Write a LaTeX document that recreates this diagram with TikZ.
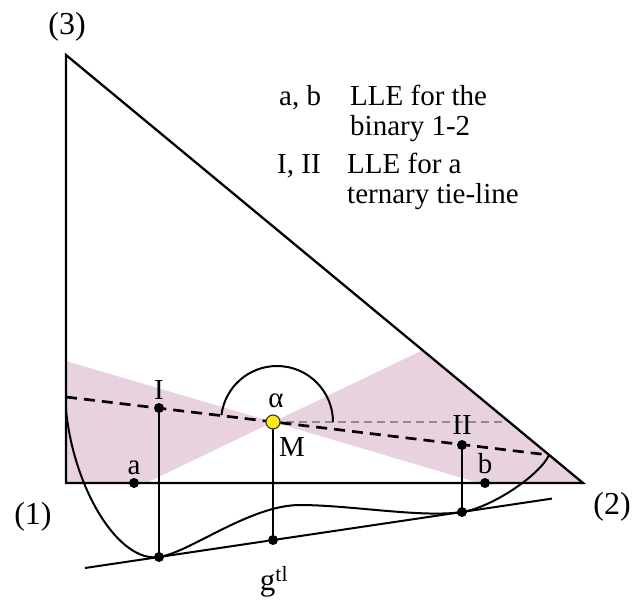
\documentclass[tikz,border=0pt]{standalone}
\usepackage{fontspec}
\setmainfont{Liberation Serif}
\usetikzlibrary{positioning}
\definecolor{wedgepink}{HTML}{E8D2DF}
\definecolor{pointyellow}{HTML}{FFE81A}
\tikzset{
  side/.style={line width=2.3pt, line join=miter},
  curve/.style={line width=2pt},
  tieline/.style={line width=2.7pt, dash pattern=on 11pt off 7pt},
  refline/.style={line width=1.5pt, black!45, dash pattern=on 8pt off 5pt},
  drop/.style={line width=2pt},
  pt/.style={circle, fill=black, inner sep=0pt, minimum size=10pt},
  mix/.style={circle, draw=black!80, line width=1.1pt, fill=pointyellow, inner sep=0pt, minimum size=14pt},
  lbl/.style={inner sep=0pt, font=\fontsize{29}{33}\selectfont},
  corner/.style={inner sep=0pt, font=\fontsize{32}{36}\selectfont},
  legend/.style={inner sep=0pt, anchor=base west, font=\fontsize{29}{33}\selectfont}
}

\begin{document}
\begin{tikzpicture}[x=1pt, y=-1pt]
  \useasboundingbox (0,0) rectangle (640,600);

  % corners of the triangle and points on the lines
  \coordinate (v1) at (66,483);
  \coordinate (v2) at (583,483);
  \coordinate (v3) at (66,55);
  \coordinate (m) at (273,422);
  \coordinate (wl) at (66,361);
  \coordinate (wa) at (146,483);
  \coordinate (wt) at (423,350);
  \coordinate (wb) at (479,483);
  \coordinate (dl) at (66,397);
  \coordinate (dr) at (549,455);
  \coordinate (hr) at (505,422);
  \coordinate (gs) at (66,410);
  \coordinate (tI) at (159,557);
  \coordinate (tM) at (273,540);
  \coordinate (tII) at (462,512);
  \coordinate (gl) at (85,568);
  \coordinate (gr) at (552,498.6);

  % shaded wedges
  \fill[wedgepink] (wl) -- (m) -- (wa) -- (v1) -- cycle;
  \fill[wedgepink] (m) -- (wt) -- (v2) -- (wb) -- cycle;

  \draw[side] (v3) -- (v1) -- (v2) -- cycle;

  \draw[refline] (m) -- (hr);
  \draw[tieline] (dl) -- (dr);
  \draw[curve] (333,422) arc[start angle=0, end angle=-173, radius=56];

  % g curve and its tangent
  \draw[curve] (gs) .. controls (74,490) and (119,563) .. (tI)
    .. controls (190,552.4) and (250,505) .. (300,505)
    .. controls (350,505) and (422,518) .. (tII)
    .. controls (492,507.5) and (540,475) .. (dr);
  \draw[curve] (gl) -- (gr);

  % points
  \node[pt] (pa) at (134,483) {};
  \node[pt] (pb) at (485,483) {};
  \node[pt] (pI) at (159,408) {};
  \node[pt] (pII) at (462,445) {};
  \node[pt] (qI) at (tI) {};
  \node[pt] (qM) at (tM) {};
  \node[pt] (qII) at (tII) {};

  \draw[drop] (pI.center) -- (qI.center);
  \draw[drop] (m) -- (qM.center);
  \draw[drop] (pII.center) -- (qII.center);
  \node[mix] (pM) at (m) {};

  % labels
  \node[lbl, above=3pt of pa] (la) {a};
  \node[lbl, above=4pt of pb] (lb) {b};
  \node[lbl, above=3pt of pI] (lI) {I};
  \node[lbl, above=5pt of pII] (lII) {II};
  \node[lbl, above=6pt of pM, xshift=3pt] (lalpha) {α};
  \node[lbl] (lM) at (292,447) {M};
  \node[lbl, font=\fontsize{31}{35}\selectfont] (lg) at (274,582) {g\textsuperscript{tl}};

  \node[corner] (c3) at (67,27) {(3)};
  \node[corner] (c1) at (33,517) {(1)};
  \node[corner] (c2) at (612,507) {(2)};

  % legend
  \node[legend] (kab) at (279,105) {a, b};
  \node[legend] (kab1) at (350,105) {LLE for the};
  \node[legend] (kab2) at (350,135) {binary 1-2};
  \node[legend] (kI) at (277,173) {I, II};
  \node[legend] (kI1) at (347,173) {LLE for a};
  \node[legend] (kI2) at (347,203) {ternary tie-line};
\end{tikzpicture}
\end{document}
